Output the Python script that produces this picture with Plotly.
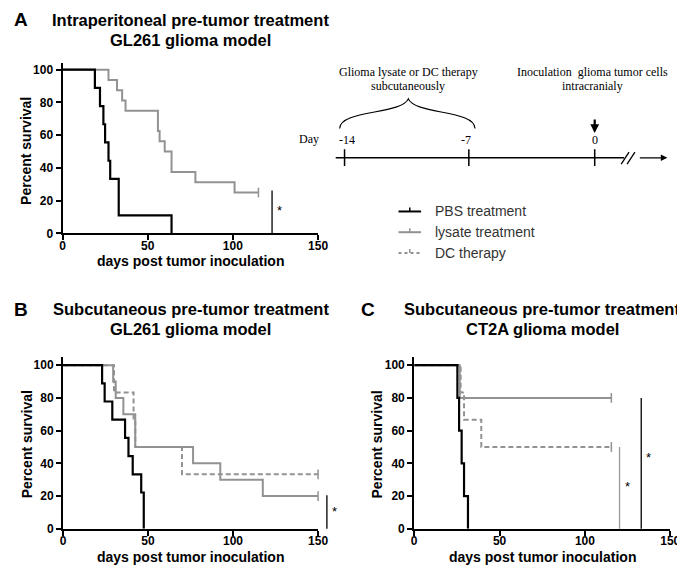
import plotly.graph_objects as go

W, H = 685, 570

# ---------------- data ----------------
A_pbs_days = [0, 19, 22, 24, 25, 27, 28, 33, 64]
A_pbs_surv = [100, 88.9, 77.8, 66.7, 55.6, 44.4, 33.3, 11.1, 0]
A_lys_days = [0, 27, 32, 35, 37, 56, 57, 60, 64, 78, 101, 115]
A_lys_surv = [100, 93.75, 87.5, 81.25, 75, 62.5, 56.25, 50, 37.5, 31.25, 25, 25]

B_pbs_days = [0, 23, 24.5, 29, 36.5, 38.5, 41, 46, 47.5]
B_pbs_surv = [100, 88.9, 77.8, 66.7, 55.6, 44.4, 33.3, 22.2, 0]
B_lys_days = [0, 29.5, 31, 35.5, 42.5, 76.5, 92.5, 117.5, 150]
B_lys_surv = [100, 90, 80, 70, 50, 40, 30, 20, 20]
B_dc_days = [0, 30, 41.5, 42.5, 70, 150]
B_dc_surv = [100, 83.3, 66.7, 50, 33.3, 33.3]

C_pbs_days = [0, 25.3, 26.3, 27.8, 29.2, 31.5]
C_pbs_surv = [100, 80, 60, 40, 20, 0]
C_lys_days = [0, 26.7, 115.5]
C_lys_surv = [100, 80, 80]
C_dc_days = [0, 27.2, 29.2, 39.3, 115.5]
C_dc_surv = [100, 83.3, 66.7, 50, 50]

x_ticks = [0, 50, 100, 150]
y_ticks = [0, 20, 40, 60, 80, 100]

legend_labels = ["PBS treatment", "lysate treatment", "DC therapy"]
timeline_days = ["-14", "-7", "0"]

# significance brackets: (panel, day, top survival, colour)
sig_bars = [("A", 123, 26.3, "black"), ("B", 155.2, 20.5, "black"),
            ("C", 120.3, 50, "#999999"), ("C", 133, 80, "black")]
sig_stars = [("A", 127.5, 14), ("B", 159.6, 10.5), ("C", 125, 25.6), ("C", 137.5, 43.4)]

# ---------------- layout helpers ----------------
FONT = "Liberation Sans, Arial, sans-serif"
SERIF = "Liberation Serif, Times New Roman, serif"
BLACK = "#000000"
GRAY = "#929292"

def px(x):
    return x / W

def py(y):
    return 1 - y / H

panels = {
    "A": dict(xp=(52.5, 313), yp=(228.3, 55.5), ymax=104.2, xa="x", ya="y"),
    "B": dict(xp=(53, 313), yp=(527.3, 353.3), ymax=105, xa="x2", ya="y2"),
    "C": dict(xp=(411, 672), yp=(527.3, 353.3), ymax=105, xa="x3", ya="y3"),
}

def to_paper(panel, xv, yv):
    p = panels[panel]
    x0, x1 = p["xp"]
    yb, yt = p["yp"]
    xx = x0 + (x1 - x0) * xv / 150.0
    yy = yb - (yb - yt) * yv / p["ymax"]
    return px(xx), py(yy)

fig = go.Figure()

def step(panel, xs, ys, color, dash="solid", cens=None, width=2):
    p = panels[panel]
    fig.add_trace(go.Scatter(x=xs, y=ys, mode="lines", line_shape="hv",
                             line=dict(color=color, width=width, dash=dash),
                             xaxis=p["xa"], yaxis=p["ya"], showlegend=False,
                             hoverinfo="skip", cliponaxis=False))
    if cens:
        fig.add_trace(go.Scatter(x=[xs[-1]], y=[ys[-1]], mode="markers",
                                 marker=dict(symbol="line-ns-open", size=7, color=color,
                                             line=dict(color=color, width=1.5)),
                                 xaxis=p["xa"], yaxis=p["ya"], showlegend=False,
                                 hoverinfo="skip", cliponaxis=False))

DASH = "5px,3px"
step("A", A_lys_days, A_lys_surv, GRAY, cens=True)
step("A", A_pbs_days, A_pbs_surv, BLACK, width=2.2)
step("B", B_dc_days, B_dc_surv, GRAY, dash=DASH, cens=True)
step("B", B_lys_days, B_lys_surv, GRAY, cens=True)
step("B", B_pbs_days, B_pbs_surv, BLACK, width=2.2)
step("C", C_dc_days, C_dc_surv, GRAY, dash=DASH, cens=True)
step("C", C_lys_days, C_lys_surv, GRAY, cens=True)
step("C", C_pbs_days, C_pbs_surv, BLACK, width=2.2)

axis_common = dict(showline=True, linecolor=BLACK, linewidth=2, ticks="outside",
                   ticklen=5, tickwidth=2, tickcolor=BLACK, showgrid=False,
                   zeroline=False, tickfont=dict(family=FONT, size=12, color=BLACK, weight="bold"))

layout = dict(width=W, height=H, margin=dict(l=0, r=0, t=0, b=0),
              paper_bgcolor="white", plot_bgcolor="white", showlegend=False)
for name, p in panels.items():
    xk = "xaxis" + ("" if p["xa"] == "x" else p["xa"][1:])
    yk = "yaxis" + ("" if p["ya"] == "y" else p["ya"][1:])
    layout[xk] = dict(axis_common, domain=[px(p["xp"][0]), px(p["xp"][1])],
                      range=[0, 150], tickvals=x_ticks, anchor=p["ya"],
                      ticklabelstandoff=-5)
    layout[yk] = dict(axis_common, domain=[py(p["yp"][0]), py(p["yp"][1])],
                      range=[0, p["ymax"]], tickvals=y_ticks, anchor=p["xa"])
fig.update_layout(**layout)

ann = []
shapes = []

def text(x, y, s, size, bold=False, family=FONT, color=BLACK, xanchor="center", angle=0):
    ann.append(dict(x=px(x), y=py(y), xref="paper", yref="paper", text=s,
                    showarrow=False, xanchor=xanchor, yanchor="middle", textangle=angle,
                    font=dict(family=family, size=size, color=color,
                              weight="bold" if bold else "normal")))

# panel letters and titles
TS = 16.5
text(10, 12, "A", 19, bold=True)
text(10, 305, "B", 19, bold=True)
text(364, 305, "C", 19, bold=True)
text(183, 12, "Intraperitoneal pre-tumor treatment", TS, bold=True)
text(183, 32, "GL261 glioma model", TS, bold=True)
text(183, 305, "Subcutaneous pre-tumor treatment", TS, bold=True)
text(183, 325, "GL261 glioma model", TS, bold=True)
text(541.5, 305, "Subcutaneous pre-tumor treatment", TS, bold=True)
text(541.5, 325, "CT2A glioma model", TS, bold=True)

# axis titles
text(182.5, 256, "days post tumor inoculation", 14, bold=True)
text(183, 556, "days post tumor inoculation", 14, bold=True)
text(541.5, 556, "days post tumor inoculation", 14, bold=True)
text(16, 145, "Percent survival", 14, bold=True, angle=-90)
text(16, 442, "Percent survival", 14, bold=True, angle=-90)
text(373, 442, "Percent survival", 14, bold=True, angle=-90)

# significance bars
for panel, d, top, col in sig_bars:
    x0, y0 = to_paper(panel, d, 0)
    _, y1 = to_paper(panel, d, top)
    shapes.append(dict(type="line", xref="paper", yref="paper", x0=x0, x1=x0, y0=y0, y1=y1,
                       line=dict(color=col, width=1.3)))
for panel, d, v in sig_stars:
    x0, y0 = to_paper(panel, d, v)
    ann.append(dict(x=x0, y=y0, xref="paper", yref="paper", text="*", showarrow=False,
                    xanchor="center", yanchor="middle",
                    font=dict(family=FONT, size=13, color=BLACK)))

# legend
leg_styles = [(BLACK, "solid"), (GRAY, "solid"), (GRAY, "3px,3px")]
for i, lab in enumerate(legend_labels):
    yy = 206 + 21 * i
    col, dsh = leg_styles[i]
    shapes.append(dict(type="line", xref="paper", yref="paper", x0=px(395), x1=px(418),
                       y0=py(yy), y1=py(yy), line=dict(color=col, width=2, dash=dsh)))
    shapes.append(dict(type="line", xref="paper", yref="paper", x0=px(406.5), x1=px(406.5),
                       y0=py(yy), y1=py(yy - 4), line=dict(color=col, width=1.5)))
    text(430, yy, lab, 14, color="#333333", xanchor="left")

# timeline schematic
LINE_Y = 151.7
shapes.append(dict(type="line", xref="paper", yref="paper", x0=px(331), x1=px(625),
                   y0=py(LINE_Y), y1=py(LINE_Y), line=dict(color=BLACK, width=1.5)))
for xx in (340, 466.7, 595):
    shapes.append(dict(type="line", xref="paper", yref="paper", x0=px(xx), x1=px(xx),
                       y0=py(143), y1=py(160), line=dict(color=BLACK, width=1.5)))
for xa, xb in ((622, 630), (628, 636)):
    shapes.append(dict(type="line", xref="paper", yref="paper", x0=px(xa), x1=px(xb),
                       y0=py(158), y1=py(146), line=dict(color=BLACK, width=1.3)))
ann.append(dict(x=px(669), y=py(LINE_Y), xref="paper", yref="paper", text="", showarrow=True,
                ax=-29, ay=0, arrowhead=2, arrowsize=1, arrowwidth=1.3, arrowcolor=BLACK))
ann.append(dict(x=px(595), y=py(126.5), xref="paper", yref="paper", text="", showarrow=True,
                ax=0, ay=-15, arrowhead=2, arrowsize=0.8, arrowwidth=2.2, arrowcolor=BLACK))

def P(x, y):
    return f"{px(x):.5f},{py(y):.5f}"
brace = (f"M {P(335,122)} C {P(335,103)} {P(398,108)} {P(405,92)} "
         f"C {P(412,108)} {P(473,103)} {P(473,122)}")
shapes.append(dict(type="path", xref="paper", yref="paper", path=brace,
                   line=dict(color=BLACK, width=1.2)))

text(304, 133, "Day", 12, family=SERIF)
for lab, xx in zip(timeline_days, (342.7, 464.3, 595)):
    text(xx, 134, lab, 12, family=SERIF)
text(405, 65, "Glioma lysate or DC therapy", 12, family=SERIF)
text(405, 78.5, "subcutaneously", 12, family=SERIF)
text(593, 65, "Inoculation  glioma tumor cells", 12, family=SERIF)
text(593, 78.5, "intracranialy", 12, family=SERIF)

fig.update_layout(annotations=ann, shapes=shapes)
fig.write_html("out.html")
